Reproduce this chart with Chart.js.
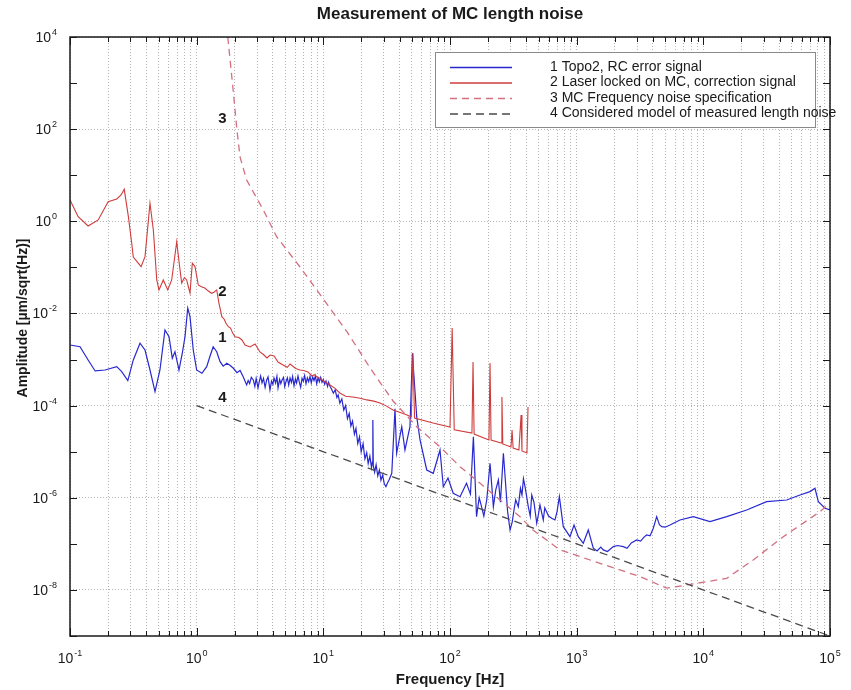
<!DOCTYPE html>
<html>
<head>
<meta charset="utf-8">
<title>Measurement of MC length noise</title>
<script src="https://cdn.jsdelivr.net/npm/chart.js@4.4.1/dist/chart.umd.min.js"></script>
<style>
    html, body { margin: 0; padding: 0; background: #fff; }
    #wrap { width: 851px; height: 690px; }
</style>
</head>
<body>
<div id="wrap"><canvas id="chart" width="851" height="690"></canvas></div>
<script>
// --- data (frequency in Hz, amplitude in um/sqrt(Hz)) ---

// 1 Topo2, RC error signal
const topoFreq = [
    0.1, 0.12, 0.139, 0.158, 0.189, 0.234, 0.256, 0.286, 0.316, 0.357, 0.391, 0.428, 0.469, 0.513, 0.562, 0.605, 0.642, 0.674, 0.725, 0.770, 0.809, 0.850, 0.886, 0.940,
    1.0, 1.10, 1.20, 1.27, 1.35, 1.44, 1.53, 1.62, 1.73, 1.84, 1.95, 2.08, 2.20, 2.33,
    2.48, 2.55, 2.62, 2.70, 2.80, 2.88, 2.95, 3.05, 3.12, 3.20, 3.28, 3.37, 3.47, 3.57, 3.66, 3.79, 3.90, 4.00, 4.08, 4.20, 4.30, 4.39, 4.52, 4.62, 4.72, 4.85, 4.96,
    5.07, 5.20, 5.33, 5.46, 5.60, 5.72, 5.87, 6.02, 6.15, 6.31, 6.45, 6.62, 6.79, 6.95, 7.12, 7.30, 7.48, 7.66, 7.85, 8.03, 8.24, 8.44, 8.65, 8.86, 9.08, 9.30, 9.53, 9.76,
    10.0, 10.25, 10.5, 10.8, 11.0, 11.3, 11.6, 12.0, 12.4, 12.8, 13.1, 13.5,
    14.0, 14.5, 15.0, 15.5, 16.0, 16.5, 17.0, 17.6, 18.1, 18.7, 19.3, 19.9, 20.6, 21.3, 22.0, 22.6, 23.3, 24.0, 24.4, 24.6, 24.8, 25.4, 26.1, 26.9, 27.7, 28.5, 29.4, 30.3, 31.2, 32.1, 33.0,
    34.7, 36.8, 37.9, 41.6, 44.1, 48.3, 50.5, 54.6, 58.0, 65.5, 73.8, 83.4, 88.5, 96.4,
    106, 120, 135, 145, 153, 162, 170, 176, 185, 195, 207, 220, 230, 241, 250, 264, 277, 285, 298, 310, 320, 330, 346, 360, 370, 380, 391, 400, 415, 430, 442, 460, 484, 500, 513, 545, 560, 600, 635, 674, 700, 730, 784, 886, 953,
    1030, 1128, 1235, 1353, 1450, 1550, 1623, 1750, 1946, 2100, 2335, 2500, 2700, 2978, 3200, 3400, 3571, 3800, 4027, 4283, 4500, 4692, 5000, 5453, 6540, 8330,
    11290, 15300, 22000, 31600, 45500, 58000, 69500, 76100, 80900, 91300, 100000
];
const topoAmp = [
    2.07e-3, 1.90e-3, 9.8e-4, 5.65e-4, 5.93e-4, 7.0e-4, 5.45e-4, 3.48e-4, 9.8e-4, 2.26e-3, 1.61e-3, 5.93e-4, 2.01e-4, 5.93e-4, 4.38e-3, 3.13e-3, 1.07e-3, 1.48e-3, 5.93e-4, 1.37e-3, 3.13e-3, 1.30e-2, 8.5e-3, 1.61e-3,
    5.93e-4, 5.04e-4, 7.0e-4, 1.15e-3, 1.90e-3, 1.48e-3, 9.0e-4, 7.2e-4, 8.3e-4, 7.4e-4, 6.47e-4, 5.2e-4, 5.8e-4, 4.25e-4,
    2.81e-4, 3.5e-4, 3.0e-4, 4.1e-4, 3.6e-4, 2.6e-4, 3.9e-4, 2.42e-4, 3.3e-4, 4.4e-4, 3.1e-4, 3.9e-4, 2.5e-4, 3.6e-4, 4.2e-4, 2.19e-4, 3.4e-4, 2.9e-4, 3.98e-4, 3.1e-4, 4.3e-4, 2.42e-4, 3.7e-4, 3.0e-4, 3.6e-4, 4.1e-4, 2.6e-4,
    3.3e-4, 4.0e-4, 2.8e-4, 3.98e-4, 3.2e-4, 4.3e-4, 2.7e-4, 3.8e-4, 3.1e-4, 4.4e-4, 3.3e-4, 2.5e-4, 3.9e-4, 3.4e-4, 4.5e-4, 3.0e-4, 4.0e-4, 3.3e-4, 4.3e-4, 3.1e-4, 4.2e-4, 3.5e-4, 4.4e-4, 3.0e-4, 4.0e-4, 3.3e-4, 4.1e-4, 3.2e-4,
    3.7e-4, 2.9e-4, 3.4e-4, 2.6e-4, 3.2e-4, 2.6e-4, 2.3e-4, 1.86e-4, 2.2e-4, 1.5e-4, 1.7e-4, 1.13e-4,
    1.4e-4, 8.0e-5, 1.0e-4, 5.2e-5, 6.8e-5, 3.6e-5, 4.6e-5, 2.4e-5, 3.2e-5, 1.5e-5, 2.1e-5, 1.0e-5, 1.5e-5, 7.0e-6, 9.5e-6, 5.5e-6, 8.0e-6, 4.5e-6, 6.0e-6, 4.9e-5, 5.0e-6, 3.6e-6, 5.2e-6, 3.0e-6, 4.0e-6, 2.4e-6, 3.1e-6, 2.0e-6, 1.74e-6, 2.1e-6, 2.43e-6,
    3.40e-6, 8.5e-5, 9.23e-6, 3.49e-5, 1.09e-5, 3.49e-5, 1.37e-3, 5.75e-5, 1.80e-5, 4.01e-6, 3.40e-6, 1.09e-5, 1.74e-6, 2.69e-6,
    1.25e-6, 1.05e-6, 2.06e-6, 1.2e-6, 2.11e-5, 3.89e-7, 1.0e-6, 6.98e-7, 4.0e-7, 8.95e-7, 5.6e-6, 6.41e-7, 1.5e-6, 2.43e-6, 8.0e-7, 9.23e-6, 1.48e-6, 5.0e-7, 2.0e-7, 3.0e-7, 5.43e-7, 9.0e-7, 6.41e-7, 1.6e-6, 1.15e-6, 2.6e-6, 1.74e-6, 1.2e-6, 6.41e-7, 4.0e-7, 1.15e-6, 8.0e-7, 2.80e-7, 4.5e-7, 6.98e-7, 3.30e-7, 6.0e-7, 4.0e-7, 3.59e-7, 3.30e-7, 5.0e-7, 1.06e-6, 2.36e-7, 1.43e-7, 2.57e-7,
    1.43e-7, 1.03e-7, 2.0e-7, 8.03e-8, 7.0e-8, 8.5e-8, 7.38e-8, 6.8e-8, 8.69e-8, 9.2e-8, 8.69e-8, 8.0e-8, 1.05e-7, 1.22e-7, 1.15e-7, 1.40e-7, 1.56e-7, 1.5e-7, 2.18e-7, 3.89e-7, 2.6e-7, 2.36e-7, 2.3e-7, 2.57e-7, 3.30e-7, 3.89e-7,
    3.03e-7, 3.89e-7, 5.43e-7, 8.23e-7, 8.95e-7, 1.15e-6, 1.36e-6, 1.61e-6, 8.23e-7, 5.91e-7, 5.43e-7
];

// 2 Laser locked on MC, correction signal
const laserFreq = [
    0.1, 0.116, 0.139, 0.167, 0.200, 0.234, 0.253, 0.268, 0.289, 0.307, 0.316, 0.364, 0.391, 0.428, 0.455, 0.484, 0.504, 0.545, 0.591, 0.635, 0.696, 0.739, 0.762, 0.80, 0.834, 0.86, 0.886, 0.924, 0.97,
    1.03, 1.09, 1.16, 1.23, 1.31, 1.37, 1.44, 1.50, 1.54, 1.58, 1.65, 1.70, 1.78, 1.85, 1.93, 2.01, 2.15, 2.28, 2.41, 2.64, 2.89, 3.16, 3.35, 3.59, 3.8, 4.08, 4.39, 4.80, 5.2, 5.46, 5.98, 6.2, 6.54, 7.0, 7.56, 8.14, 8.5, 8.91, 9.3, 9.76,
    11.3, 12.3, 13.5, 15, 17.1, 19.5, 22.1, 25, 28.0, 31, 35.5, 40, 45.8, 49.5, 51.0, 52.5, 73.4,
    100, 104, 108, 149, 152, 155, 203, 207, 211, 253, 257, 261, 303, 309, 315, 350, 364, 370, 405, 413
];
const laserAmp = [
    2.90, 1.26, 0.79, 1.07, 2.67, 3.05, 3.72, 4.95, 1.26, 0.338, 0.168, 0.1035, 0.171, 2.46, 0.648, 0.0533, 0.0324, 0.0533, 0.0324, 0.0533, 0.361, 0.0879, 0.0458, 0.06, 0.0533, 0.038, 0.0278, 0.123, 0.104,
    0.0415, 0.038, 0.0357, 0.031, 0.0274, 0.029, 0.0324, 0.0166, 0.012, 0.0085, 0.0075, 0.0062, 0.00516, 0.0048, 0.0037, 0.00313, 0.0030, 0.00266, 0.00207, 0.00188, 0.00218, 0.00146, 0.0013, 0.00108, 0.00125, 0.00120, 8.85e-4, 7.62e-4, 6.8e-4, 8.02e-4, 6.56e-4, 6.2e-4, 5.93e-4, 5.8e-4, 5.38e-4, 4.40e-4, 4.7e-4, 4.19e-4, 4.0e-4, 3.60e-4,
    2.81e-4, 2.4e-4, 1.88e-4, 1.6e-4, 1.54e-4, 1.45e-4, 1.33e-4, 1.25e-4, 1.14e-4, 1.0e-4, 8.03e-5, 7.2e-5, 6.25e-5, 5.66e-5, 1.39e-3, 5.39e-5, 4.19e-5,
    3.43e-5, 4.84e-3, 3.0e-5, 2.54e-5, 8.85e-4, 2.42e-5, 1.80e-5, 8.41e-4, 1.78e-5, 1.55e-5, 1.54e-4, 1.47e-5, 1.26e-5, 2.96e-5, 1.20e-5, 1.09e-5, 6.25e-5, 1.04e-5, 9.37e-6, 9.33e-5
];

// 3 MC Frequency noise specification
const specFreq = [1.76, 1.94, 2.08, 2.20, 2.48, 3.36, 4.28, 6.54, 10.0, 15.4, 23.4, 35.5, 54.9, 83.4, 120, 173, 248, 357, 452, 739, 1528, 3162, 5135, 7387, 15300, 24800, 42800, 83400, 100000];
const specAmp = [1e4, 708, 96, 24.9, 7.88, 1.76, 0.463, 0.102, 0.0206, 3.97e-3, 6.56e-4, 1.26e-4, 3.43e-5, 1.28e-5, 4.72e-6, 2.06e-6, 8.95e-7, 3.89e-7, 2.0e-7, 7.38e-8, 3.79e-8, 1.94e-8, 1.09e-8, 1.28e-8, 1.79e-8, 4.48e-8, 1.43e-7, 4.99e-7, 7.71e-7];

// 4 Considered model of measured length noise
const modelFreq = [1, 100000];
const modelAmp = [1e-4, 1e-9];

// curve numbers written on the plot
const curveTags = ['1', '2', '3', '4'];
const curveTagFreq = [1.6, 1.6, 1.6, 1.6];
const curveTagAmp = [2.94e-3, 0.0292, 166, 1.46e-4];

// axis decades and labels
const xDecades = [0.1, 1, 10, 100, 1000, 10000, 100000];
const xLabelExps = [-1, 0, 1, 2, 3, 4, 5];
const yDecades = [1e4, 1e3, 1e2, 1e1, 1, 1e-1, 1e-2, 1e-3, 1e-4, 1e-5, 1e-6, 1e-7, 1e-8, 1e-9];
const yLabelExps = [4, 2, 0, -2, -4, -6, -8];

const legendLabels = [
    '1 Topo2, RC error signal',
    '2 Laser locked on MC, correction signal',
    '3 MC Frequency noise specification',
    '4 Considered model of measured length noise'
];

const FONT = '"Liberation Sans", Arial, Helvetica, sans-serif';

const toPoints = (xs, ys) => xs.map((v, i) => ({ x: v, y: ys[i] }));

// minor grid positions 1..9 x decade
const xGridValues = [];
xDecades.forEach((d, i) => {
    if (i === xDecades.length - 1) { xGridValues.push(d); return; }
    for (let k = 1; k <= 9; k++) xGridValues.push(k * d);
});

const drawPower = (ctx, exp, cx, baseline, align) => {
    const big = '14px ' + FONT;
    const small = '9px ' + FONT;
    ctx.font = big;
    const bw = ctx.measureText('10').width;
    ctx.font = small;
    const ew = ctx.measureText(String(exp)).width;
    const left = align === 'right' ? cx - bw - ew - 1 : cx - (bw + ew + 1) / 2;
    ctx.textAlign = 'left';
    ctx.textBaseline = 'alphabetic';
    ctx.font = big;
    ctx.fillText('10', left, baseline);
    ctx.font = small;
    ctx.fillText(String(exp), left + bw + 1, baseline - 7);
};

const decorations = {
    id: 'decorations',
    afterDraw(chart) {
        const { ctx, chartArea: a, scales: { x, y } } = chart;
        ctx.save();
        ctx.fillStyle = '#1a1a1a';
        ctx.strokeStyle = '#1a1a1a';
        ctx.lineWidth = 1;

        // inward tick marks
        ctx.beginPath();
        xGridValues.forEach(v => {
            const px = Math.round(x.getPixelForValue(v)) + 0.5;
            const len = xDecades.includes(v) ? 8 : 5;
            ctx.moveTo(px, a.bottom); ctx.lineTo(px, a.bottom - len);
            ctx.moveTo(px, a.top); ctx.lineTo(px, a.top + len);
        });
        yDecades.forEach(v => {
            const py = Math.round(y.getPixelForValue(v)) + 0.5;
            ctx.moveTo(a.left, py); ctx.lineTo(a.left + 7, py);
            ctx.moveTo(a.right, py); ctx.lineTo(a.right - 7, py);
        });
        ctx.stroke();

        // frame
        ctx.lineWidth = 1.5;
        ctx.strokeRect(a.left, a.top, a.right - a.left, a.bottom - a.top);

        // tick labels
        xLabelExps.forEach(e => {
            drawPower(ctx, e, x.getPixelForValue(Math.pow(10, e)), a.bottom + 27, 'center');
        });
        yLabelExps.forEach(e => {
            drawPower(ctx, e, a.left - 13, y.getPixelForValue(Math.pow(10, e)) + 5, 'right');
        });

        // titles
        ctx.textAlign = 'center';
        ctx.textBaseline = 'middle';
        ctx.font = 'bold 17px ' + FONT;
        ctx.fillText('Measurement of MC length noise', (a.left + a.right) / 2, 14);
        ctx.font = 'bold 15px ' + FONT;
        ctx.fillText('Frequency [Hz]', (a.left + a.right) / 2, 680);
        ctx.save();
        ctx.translate(23, 318);
        ctx.rotate(-Math.PI / 2);
        ctx.font = 'bold 14px ' + FONT;
        ctx.fillText('Amplitude [\u00b5m/sqrt(Hz)]', 0, 0);
        ctx.restore();

        // curve numbers
        ctx.font = 'bold 15px ' + FONT;
        curveTags.forEach((t, i) => {
            ctx.fillText(t, x.getPixelForValue(curveTagFreq[i]), y.getPixelForValue(curveTagAmp[i]));
        });

        // legend box
        const lx = 435, ly = 52, lw = 380, lh = 75;
        ctx.fillStyle = '#fff';
        ctx.fillRect(lx, ly, lw, lh);
        ctx.strokeStyle = '#8a8a8a';
        ctx.lineWidth = 1;
        ctx.strokeRect(lx + 0.5, ly + 0.5, lw, lh);
        chart.data.datasets.forEach((ds, i) => {
            const rowY = ly + 15 + i * 15.5;
            ctx.strokeStyle = ds.borderColor;
            ctx.lineWidth = 1.3;
            ctx.setLineDash(ds.borderDash || []);
            ctx.beginPath();
            ctx.moveTo(450, rowY + 0.5);
            ctx.lineTo(512, rowY + 0.5);
            ctx.stroke();
            ctx.setLineDash([]);
            ctx.fillStyle = '#1a1a1a';
            ctx.textAlign = 'left';
            ctx.font = '14px ' + FONT;
            ctx.fillText(legendLabels[i], 550, rowY);
        });
        ctx.restore();
    }
};

const lineDefaults = { showLine: true, pointRadius: 0, pointHoverRadius: 0, tension: 0, fill: false };

new Chart(document.getElementById('chart'), {
    type: 'scatter',
    data: {
        datasets: [
            { ...lineDefaults, label: legendLabels[0], data: toPoints(topoFreq, topoAmp), borderColor: '#2828d0', borderWidth: 1.2, order: 4 },
            { ...lineDefaults, label: legendLabels[1], data: toPoints(laserFreq, laserAmp), borderColor: '#d03c3c', borderWidth: 1.1, order: 3 },
            { ...lineDefaults, label: legendLabels[2], data: toPoints(specFreq, specAmp), borderColor: '#d27080', borderWidth: 1.3, borderDash: [7, 5], order: 2 },
            { ...lineDefaults, label: legendLabels[3], data: toPoints(modelFreq, modelAmp), borderColor: '#4a4a4a', borderWidth: 1.3, borderDash: [8, 5], order: 1 }
        ]
    },
    options: {
        responsive: false,
        animation: false,
        events: [],
        layout: { padding: { left: 70, right: 21, top: 37, bottom: 54 } },
        plugins: { legend: { display: false }, tooltip: { enabled: false }, title: { display: false } },
        scales: {
            x: {
                type: 'logarithmic',
                min: 0.1,
                max: 100000,
                afterBuildTicks: (scale) => { scale.ticks = xGridValues.map(v => ({ value: v })); },
                ticks: { display: false },
                grid: { color: '#b4b4b4', lineWidth: 1, drawTicks: false },
                border: { display: false, dash: [1, 2] }
            },
            y: {
                type: 'logarithmic',
                min: 1e-9,
                max: 1e4,
                afterBuildTicks: (scale) => { scale.ticks = yLabelExps.map(e => ({ value: Math.pow(10, e) })); },
                ticks: { display: false },
                grid: { color: '#b4b4b4', lineWidth: 1, drawTicks: false },
                border: { display: false, dash: [1, 2] }
            }
        }
    },
    plugins: [decorations]
});
</script>
</body>
</html>
